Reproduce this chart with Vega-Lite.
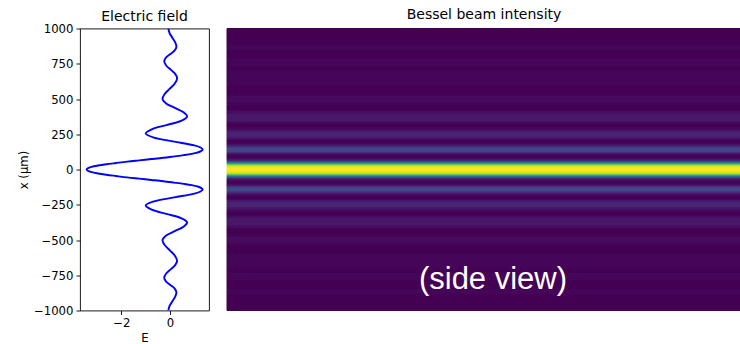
{
  "$schema": "https://vega.github.io/schema/vega-lite/v6.json",
  "padding": {"left": 18, "top": 7.5, "right": 0, "bottom": 0},
  "background": "white",
  "spacing": 16,
  "datasets": {
    "field": [
      {"pos": -1000, "E": -0.07}, {"pos": -968, "E": -0.02}, {"pos": -935, "E": 0.095}, {"pos": -902, "E": 0.21},
      {"pos": -870, "E": 0.26}, {"pos": -845, "E": 0.19}, {"pos": -819, "E": 0.01}, {"pos": -794, "E": -0.17},
      {"pos": -768, "E": -0.24}, {"pos": -738, "E": -0.16}, {"pos": -708, "E": 0.025}, {"pos": -678, "E": 0.21},
      {"pos": -648, "E": 0.29}, {"pos": -611, "E": 0.2}, {"pos": -573, "E": -0.01}, {"pos": -536, "E": -0.22},
      {"pos": -499, "E": -0.31}, {"pos": -468, "E": -0.16}, {"pos": -437, "E": 0.195}, {"pos": -406, "E": 0.55},
      {"pos": -375, "E": 0.7}, {"pos": -345, "E": 0.45}, {"pos": -315, "E": -0.15}, {"pos": -285, "E": -0.75},
      {"pos": -255, "E": -1.0}, {"pos": -226, "E": -0.66}, {"pos": -198, "E": 0.17}, {"pos": -171, "E": 1.0},
      {"pos": -156, "E": 1.25}, {"pos": -142, "E": 1.34}, {"pos": -130, "E": 1.27}, {"pos": -120, "E": 1.12},
      {"pos": -111, "E": 0.89}, {"pos": -102, "E": 0.56}, {"pos": -93, "E": 0.17}, {"pos": -83, "E": -0.28},
      {"pos": -74, "E": -0.77}, {"pos": -65, "E": -1.27}, {"pos": -56, "E": -1.76}, {"pos": -46, "E": -2.22},
      {"pos": -37, "E": -2.62}, {"pos": -28, "E": -2.96}, {"pos": -19, "E": -3.22}, {"pos": -9, "E": -3.38},
      {"pos": 0, "E": -3.43},
      {"pos": 9, "E": -3.38}, {"pos": 19, "E": -3.22}, {"pos": 28, "E": -2.96}, {"pos": 37, "E": -2.62},
      {"pos": 46, "E": -2.22}, {"pos": 56, "E": -1.76}, {"pos": 65, "E": -1.27}, {"pos": 74, "E": -0.77},
      {"pos": 83, "E": -0.28}, {"pos": 93, "E": 0.17}, {"pos": 102, "E": 0.56}, {"pos": 111, "E": 0.89},
      {"pos": 120, "E": 1.12}, {"pos": 130, "E": 1.27}, {"pos": 142, "E": 1.34}, {"pos": 156, "E": 1.25},
      {"pos": 171, "E": 1.0}, {"pos": 198, "E": 0.17}, {"pos": 226, "E": -0.66}, {"pos": 255, "E": -1.0},
      {"pos": 285, "E": -0.75}, {"pos": 315, "E": -0.15}, {"pos": 345, "E": 0.45}, {"pos": 375, "E": 0.7},
      {"pos": 406, "E": 0.55}, {"pos": 437, "E": 0.195}, {"pos": 468, "E": -0.16}, {"pos": 499, "E": -0.31},
      {"pos": 536, "E": -0.22}, {"pos": 573, "E": -0.01}, {"pos": 611, "E": 0.2}, {"pos": 648, "E": 0.29},
      {"pos": 678, "E": 0.21}, {"pos": 708, "E": 0.025}, {"pos": 738, "E": -0.16}, {"pos": 768, "E": -0.24},
      {"pos": 794, "E": -0.17}, {"pos": 819, "E": 0.01}, {"pos": 845, "E": 0.19}, {"pos": 870, "E": 0.26},
      {"pos": 902, "E": 0.21}, {"pos": 935, "E": 0.095}, {"pos": 968, "E": -0.02}, {"pos": 1000, "E": -0.07}
    ],
    "intensity": [
      {"y0": -5, "y1": 5, "I": 1.0},
      {"y0": 5, "y1": 15, "I": 0.99}, {"y0": -15, "y1": -5, "I": 0.99},
      {"y0": 15, "y1": 20, "I": 0.98}, {"y0": -20, "y1": -15, "I": 0.98},
      {"y0": 20, "y1": 25, "I": 0.96}, {"y0": -25, "y1": -20, "I": 0.96},
      {"y0": 25, "y1": 30, "I": 0.93}, {"y0": -30, "y1": -25, "I": 0.93},
      {"y0": 30, "y1": 35, "I": 0.88}, {"y0": -35, "y1": -30, "I": 0.88},
      {"y0": 35, "y1": 40, "I": 0.8}, {"y0": -40, "y1": -35, "I": 0.8},
      {"y0": 40, "y1": 45, "I": 0.68}, {"y0": -45, "y1": -40, "I": 0.68},
      {"y0": 45, "y1": 50, "I": 0.54}, {"y0": -50, "y1": -45, "I": 0.54},
      {"y0": 50, "y1": 55, "I": 0.4}, {"y0": -55, "y1": -50, "I": 0.4},
      {"y0": 55, "y1": 60, "I": 0.28}, {"y0": -60, "y1": -55, "I": 0.28},
      {"y0": 60, "y1": 65, "I": 0.18}, {"y0": -65, "y1": -60, "I": 0.18},
      {"y0": 65, "y1": 70, "I": 0.11}, {"y0": -70, "y1": -65, "I": 0.11},
      {"y0": 70, "y1": 80, "I": 0.05}, {"y0": -80, "y1": -70, "I": 0.05},
      {"y0": 80, "y1": 90, "I": 0.015}, {"y0": -90, "y1": -80, "I": 0.015},
      {"y0": 90, "y1": 100, "I": 0.0}, {"y0": -100, "y1": -90, "I": 0.0},
      {"y0": 100, "y1": 110, "I": 0.015}, {"y0": -110, "y1": -100, "I": 0.015},
      {"y0": 110, "y1": 120, "I": 0.06}, {"y0": -120, "y1": -110, "I": 0.06},
      {"y0": 120, "y1": 130, "I": 0.13}, {"y0": -130, "y1": -120, "I": 0.13},
      {"y0": 130, "y1": 140, "I": 0.2}, {"y0": -140, "y1": -130, "I": 0.2},
      {"y0": 140, "y1": 150, "I": 0.22}, {"y0": -150, "y1": -140, "I": 0.22},
      {"y0": 150, "y1": 160, "I": 0.2}, {"y0": -160, "y1": -150, "I": 0.2},
      {"y0": 160, "y1": 170, "I": 0.13}, {"y0": -170, "y1": -160, "I": 0.13},
      {"y0": 170, "y1": 180, "I": 0.07}, {"y0": -180, "y1": -170, "I": 0.07},
      {"y0": 180, "y1": 190, "I": 0.025}, {"y0": -190, "y1": -180, "I": 0.025},
      {"y0": 190, "y1": 210, "I": 0.0}, {"y0": -210, "y1": -190, "I": 0.0},
      {"y0": 210, "y1": 220, "I": 0.02}, {"y0": -220, "y1": -210, "I": 0.02},
      {"y0": 220, "y1": 235, "I": 0.06}, {"y0": -235, "y1": -220, "I": 0.06},
      {"y0": 235, "y1": 270, "I": 0.1}, {"y0": -270, "y1": -235, "I": 0.1},
      {"y0": 270, "y1": 285, "I": 0.06}, {"y0": -285, "y1": -270, "I": 0.06},
      {"y0": 285, "y1": 300, "I": 0.02}, {"y0": -300, "y1": -285, "I": 0.02},
      {"y0": 300, "y1": 330, "I": 0.0}, {"y0": -330, "y1": -300, "I": 0.0},
      {"y0": 330, "y1": 350, "I": 0.03}, {"y0": -350, "y1": -330, "I": 0.03},
      {"y0": 350, "y1": 400, "I": 0.06}, {"y0": -400, "y1": -350, "I": 0.06},
      {"y0": 400, "y1": 420, "I": 0.03}, {"y0": -420, "y1": -400, "I": 0.03},
      {"y0": 420, "y1": 460, "I": 0.0}, {"y0": -460, "y1": -420, "I": 0.0},
      {"y0": 460, "y1": 480, "I": 0.01}, {"y0": -480, "y1": -460, "I": 0.01},
      {"y0": 480, "y1": 520, "I": 0.025}, {"y0": -520, "y1": -480, "I": 0.025},
      {"y0": 520, "y1": 540, "I": 0.01}, {"y0": -540, "y1": -520, "I": 0.01},
      {"y0": 540, "y1": 600, "I": 0.0}, {"y0": -600, "y1": -540, "I": 0.0},
      {"y0": 600, "y1": 700, "I": 0.012}, {"y0": -700, "y1": -600, "I": 0.012},
      {"y0": 700, "y1": 740, "I": 0.0}, {"y0": -740, "y1": -700, "I": 0.0},
      {"y0": 740, "y1": 790, "I": 0.01}, {"y0": -790, "y1": -740, "I": 0.01},
      {"y0": 790, "y1": 850, "I": 0.0}, {"y0": -850, "y1": -790, "I": 0.0},
      {"y0": 850, "y1": 890, "I": 0.01}, {"y0": -890, "y1": -850, "I": 0.01},
      {"y0": 890, "y1": 1000, "I": 0.0}, {"y0": -1000, "y1": -890, "I": 0.0}
    ],
    "labels": [{"label": "(side view)", "z": 0.5175, "pos": -848}]
  },
  "hconcat": [
    {
      "title": {"text": "Electric field", "offset": 0},
      "width": 129,
      "height": 282,
      "view": {"stroke": "black", "strokeWidth": 0.9},
      "data": {"name": "field"},
      "mark": {"type": "line", "color": "#0000ff", "strokeWidth": 1.9, "interpolate": "catmull-rom", "clip": true},
      "encoding": {
        "x": {"field": "E", "type": "quantitative", "scale": {"domain": [-3.7, 1.6], "nice": false, "zero": false},
              "axis": {"values": [-2, 0], "format": "d", "title": "E", "titlePadding": 3}},
        "y": {"field": "pos", "type": "quantitative", "scale": {"domain": [-1000, 1000], "nice": false},
              "axis": {"values": [-1000, -750, -500, -250, 0, 250, 500, 750, 1000], "format": "d", "title": "x (μm)", "titlePadding": 4}},
        "order": {"field": "pos", "type": "quantitative"}
      }
    },
    {
      "title": {"text": "Bessel beam intensity", "offset": 6},
      "width": 514,
      "height": 282,
      "view": {"stroke": null},
      "layer": [
        {
          "data": {"name": "intensity"},
          "mark": {"type": "rect", "strokeWidth": 1},
          "encoding": {
            "x": {"datum": 0, "type": "quantitative", "scale": {"domain": [0, 1], "nice": false}, "axis": null},
            "x2": {"datum": 1},
            "y": {"field": "y0", "type": "quantitative", "scale": {"domain": [-1000, 1000], "nice": false}, "axis": null},
            "y2": {"field": "y1"},
            "color": {"field": "I", "type": "quantitative", "scale": {"scheme": "viridis", "domain": [0, 1]}, "legend": null},
            "stroke": {"field": "I", "type": "quantitative", "scale": {"scheme": "viridis", "domain": [0, 1]}, "legend": null}
          }
        },
        {
          "data": {"name": "labels"},
          "mark": {"type": "text", "color": "white", "fontSize": 31, "font": "Liberation Sans", "align": "center", "baseline": "alphabetic"},
          "encoding": {
            "x": {"field": "z", "type": "quantitative", "axis": null},
            "y": {"field": "pos", "type": "quantitative", "axis": null},
            "text": {"field": "label"}
          }
        }
      ]
    }
  ],
  "config": {
    "font": "DejaVu Sans",
    "axis": {"labelFontSize": 11.7, "titleFontSize": 11.7, "labelColor": "black", "titleColor": "black",
             "tickColor": "black", "tickSize": 4, "tickWidth": 0.9, "labelPadding": 3, "titleFontWeight": "normal",
             "grid": false, "domain": false, "labelFont": "DejaVu Sans", "titleFont": "DejaVu Sans"},
    "title": {"fontSize": 14, "fontWeight": "normal", "color": "black", "font": "DejaVu Sans"}
  }
}
